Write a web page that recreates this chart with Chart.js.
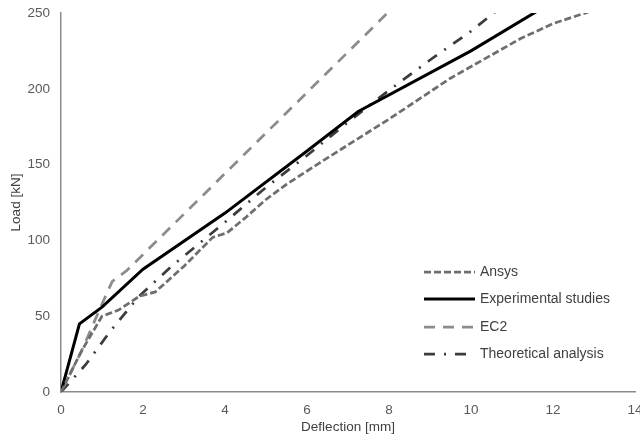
<!DOCTYPE html>
<html>
<head>
<meta charset="utf-8">
<script src="https://cdn.jsdelivr.net/npm/chart.js@4"></script>
<style>
  html, body { margin: 0; padding: 0; background: #fff; }
  #wrap { width: 640px; height: 435px; position: relative; }
</style>
</head>
<body>
<div id="wrap"><canvas id="chart"></canvas></div>
<script>
// Load-deflection curves

// Ansys (short dashes)
const ansysX = [0, 0.5, 1.0, 1.4, 1.9, 2.3, 3.0, 3.7, 4.05, 4.5, 5.0, 5.5, 6.3, 7.0, 8.0, 9.5, 11.2, 12.0, 12.9];
const ansysY = [0, 27, 50, 54, 63, 66, 83, 102, 105, 115, 127, 137, 151, 163, 180, 207, 233, 243, 251];

// Experimental studies (solid)
const expX = [0, 0.45, 1.0, 2.0, 4.0, 6.0, 7.25, 10.0, 11.6];
const expY = [0, 45, 56, 81, 118, 159, 185, 225, 251];

// EC2 (long dashes)
const ec2X = [0, 0.5, 1.0, 1.25, 1.6, 8.0];
const ec2Y = [0, 27, 58, 73, 80, 251];

// Theoretical analysis (dash-dot)
const theoX = [0, 0.6, 1.2, 1.9, 2.7, 4.0, 5.0, 6.0, 7.0, 8.0, 9.0, 10.0, 10.6];
const theoY = [0, 18, 40, 63, 83, 112, 135, 156, 178, 199, 219, 238, 251];

const xTicks = [0, 2, 4, 6, 8, 10, 12, 14];
const yTicks = [0, 50, 100, 150, 200, 250];

const FONT = "'Liberation Sans', Arial, sans-serif";

function pts(xs, ys) {
  return xs.map((x, i) => ({ x, y: ys[i] }));
}

const series = [
  { label: 'Ansys', data: pts(ansysX, ansysY), color: '#6e6e6e', width: 2.75, dash: [7, 3] },
  { label: 'Experimental studies', data: pts(expX, expY), color: '#000000', width: 3, dash: [] },
  { label: 'EC2', data: pts(ec2X, ec2Y), color: '#8c8c8c', width: 2.75, dash: [11, 8] },
  { label: 'Theoretical analysis', data: pts(theoX, theoY), color: '#3c3c3c', width: 2.75, dash: [11, 9, 2, 9] }
];

// Legend drawn inside the plot, Excel style: line sample + label
const insideLegend = {
  id: 'insideLegend',
  afterDraw(chart) {
    const ctx = chart.ctx;
    const x0 = 424, x1 = 475, tx = 480;
    const rowY = [272, 299, 327, 354];
    ctx.save();
    ctx.font = '14px ' + FONT;
    ctx.textBaseline = 'middle';
    series.forEach((s, i) => {
      ctx.beginPath();
      ctx.strokeStyle = s.color;
      ctx.lineWidth = s.width;
      ctx.setLineDash(s.dash);
      ctx.moveTo(x0, rowY[i]);
      ctx.lineTo(x1, rowY[i]);
      ctx.stroke();
      ctx.setLineDash([]);
      ctx.fillStyle = '#404040';
      ctx.fillText(s.label, tx, rowY[i]);
    });
    ctx.restore();
  }
};

new Chart(document.getElementById('chart'), {
  type: 'scatter',
  data: {
    datasets: series.map(s => ({
      label: s.label,
      data: s.data,
      showLine: true,
      borderColor: s.color,
      borderWidth: s.width,
      borderDash: s.dash,
      pointRadius: 0,
      tension: 0,
      fill: false
    }))
  },
  options: {
    responsive: true,
    maintainAspectRatio: false,
    animation: false,
    layout: { padding: { top: 13, right: 5, left: 0, bottom: 0 } },
    plugins: {
      legend: { display: false },
      tooltip: { enabled: false }
    },
    scales: {
      x: {
        type: 'linear',
        min: 0,
        max: 14,
        afterBuildTicks: s => { s.ticks = xTicks.map(v => ({ value: v })); },
        grid: { display: false, drawTicks: false },
        border: { display: true, color: '#8c8c8c', width: 1.5 },
        ticks: { color: '#595959', font: { family: FONT, size: 13.5 }, padding: 10, maxRotation: 0 },
        title: {
          display: true,
          text: 'Deflection [mm]',
          color: '#404040',
          font: { family: FONT, size: 13.5 },
          padding: { top: 0, bottom: 0 }
        },
        afterFit: s => { s.height = 43; s.paddingLeft = 0; s.paddingRight = 0; }
      },
      y: {
        type: 'linear',
        min: 0,
        max: 250,
        afterBuildTicks: s => { s.ticks = yTicks.map(v => ({ value: v })); },
        grid: { display: false, drawTicks: false },
        border: { display: true, color: '#8c8c8c', width: 1.5 },
        ticks: { color: '#595959', font: { family: FONT, size: 13.5 }, padding: 11 },
        title: {
          display: true,
          text: 'Load [kN]',
          color: '#404040',
          font: { family: FONT, size: 13.5 },
          padding: { top: 8, bottom: 0 }
        },
        afterFit: s => { s.width = 61; s.paddingTop = 0; s.paddingBottom = 0; }
      }
    }
  },
  plugins: [insideLegend]
});
</script>
</body>
</html>
